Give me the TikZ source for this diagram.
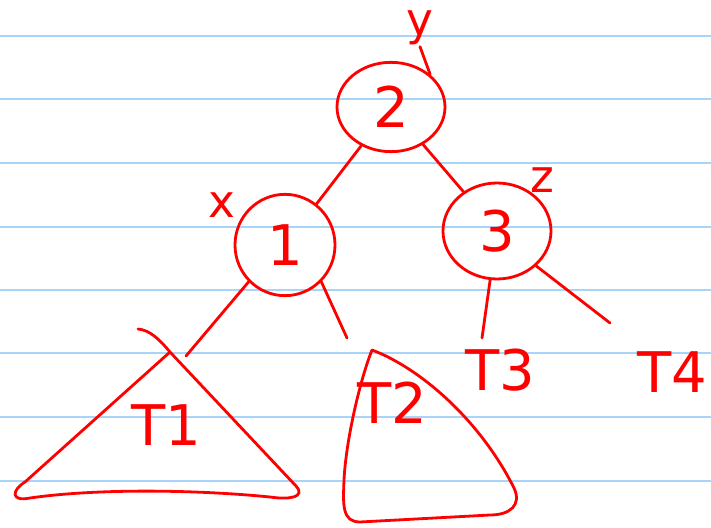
\documentclass[tikz,border=0pt]{standalone}
\usepackage{fontspec}
\setmainfont{DejaVu Sans}
\usetikzlibrary{shapes.geometric}
\definecolor{ink}{RGB}{255,0,0}
\definecolor{rule}{RGB}{168,212,250}
\begin{document}
\begin{tikzpicture}[x=0.75pt,y=-0.75pt,
  pen/.style={draw=ink,line width=2.1pt,line cap=round,line join=round},
  ruling/.style={draw=rule,line width=1.2pt},
  keynode/.style={ellipse,pen,inner sep=0pt,text=ink,font=\fontsize{42}{42}\selectfont},
  lbl/.style={text=ink,inner sep=1pt,font=\fontsize{34}{34}\selectfont},
  tlbl/.style={text=ink,inner sep=1pt,font=\fontsize{42}{42}\selectfont}]
\useasboundingbox (0,0) rectangle (711,528);
\fill[white] (0,0) rectangle (711,528);
\foreach \yy in {36,99,163,227,290,353,417,481}
  \draw[ruling] (0,\yy) -- (711,\yy);
% nodes
\node[keynode,minimum width=81pt,minimum height=67pt] (n2) at (391,107) {2};
\node[keynode,minimum width=75pt,minimum height=76pt] (n1) at (285,245) {1};
\node[keynode,minimum width=81pt,minimum height=72pt] (n3) at (497,231) {3};
\node[lbl] (y) at (420,28) {y};
\node[lbl] (x) at (222,205) {x};
\node[lbl] (z) at (542,180) {z};
% subtrees
\coordinate (t1a) at (170,352);
\coordinate (t2a) at (372,350);
\draw[pen] (138,329) .. controls (150,330) and (160,340) .. (t1a)
  -- (296,486) .. controls (306,497) and (290,500) .. (270,497)
  .. controls (200,490) and (100,488) .. (30,498)
  .. controls (10,502) and (12,490) .. (25,482) -- (t1a);
\node[tlbl] (T1) at (166,425) {T1};
\draw[pen] (t2a) .. controls (420,368) and (480,420) .. (514,488)
  .. controls (522,505) and (510,515) .. (490,515)
  -- (360,522) .. controls (342,522) and (343,505) .. (344,480)
  .. controls (346,440) and (360,380) .. (t2a);
\node[tlbl] (T2) at (392,403) {T2};
\node[tlbl] (T3) at (500,370) {T3};
\node[tlbl] (T4) at (672,372) {T4};
\coordinate (t3top) at (482,338);
\coordinate (t4top) at (610,323);
% connectors
\draw[pen] (y.south) -- (n2.north east);
\draw[pen] (n2) -- (n1);
\draw[pen] (n2) -- (n3);
\draw[pen] (n1.south west) -- (186,356);
\draw[pen] (n1.south east) -- (347,338);
\draw[pen] (n3) -- (t3top);
\draw[pen] (n3.south east) -- (t4top);
\end{tikzpicture}
\end{document}
